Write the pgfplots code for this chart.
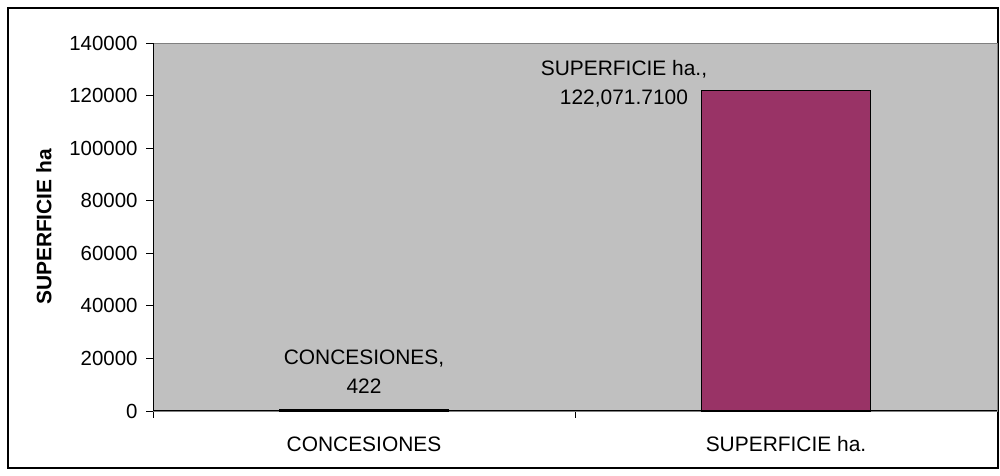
\documentclass[border=0pt]{standalone}
\usepackage{fontspec}
\setmainfont{Liberation Sans}
\usepackage{pgfplots}
\pgfplotsset{compat=1.18}
\definecolor{plotgray}{HTML}{C0C0C0}
\definecolor{barplum}{HTML}{993366}
\definecolor{framegray}{HTML}{808080}

\begin{document}
\begin{tikzpicture}[x=1bp,y=1bp]
\path[fill=white] (0,0) rectangle (1000,476);
\draw[black, line width=1.2bp] (8,8) rectangle (998,468);
\begin{axis}[
    at={(153bp,65bp)}, anchor=south west,
    scale only axis, width=844bp, height=368bp,
    xmin=-0.5, xmax=1.5,
    ymin=0, ymax=140000,
    ybar, bar width=0.4,
    xtick={0,1},
    xticklabels={CONCESIONES, SUPERFICIE ha.},
    minor xtick={-0.5,0.5,1.5},
    major x tick style={draw=none},
    ytick={0,20000,...,140000},
    scaled y ticks=false,
    tick align=outside,
    xtick pos=left, ytick pos=left,
    major tick length=7bp, minor tick length=7bp,
    axis background/.style={fill=plotgray},
    axis line style={framegray},
    tick style={black, line width=0.8bp},
    ticklabel style={font=\fontsize{21}{25}\selectfont},
    yticklabel style={font=\fontsize{20.5}{25}\selectfont, xshift=-5bp},
    /pgf/number format/fixed,
    /pgf/number format/1000 sep={},
    /pgf/number format/assume math mode=true,
    xticklabel style={yshift=-15bp},
    ylabel={\textbf{SUPERFICIE ha}},
    ylabel style={font=\fontsize{21}{25}\selectfont, yshift=11bp},
    clip=false,
]
\addplot[fill=barplum, draw=black, line width=1.2bp] coordinates {(0,422) (1,122071.71)};
\draw[black, line width=1bp] (rel axis cs:0,0) -- (rel axis cs:1,0);
\draw[black, line width=1bp] (rel axis cs:0,0) -- (rel axis cs:0,1);
\node[anchor=south, align=center, font=\fontsize{21}{29}\selectfont, yshift=13bp]
    at (axis cs:0,422) {CONCESIONES,\\422};
\node[anchor=east, align=center, font=\fontsize{21}{29}\selectfont, xshift=9bp, yshift=6bp]
    at (axis cs:0.8,122071.71) {SUPERFICIE ha.,\\122,071.7100};
\end{axis}
\end{tikzpicture}
\end{document}
